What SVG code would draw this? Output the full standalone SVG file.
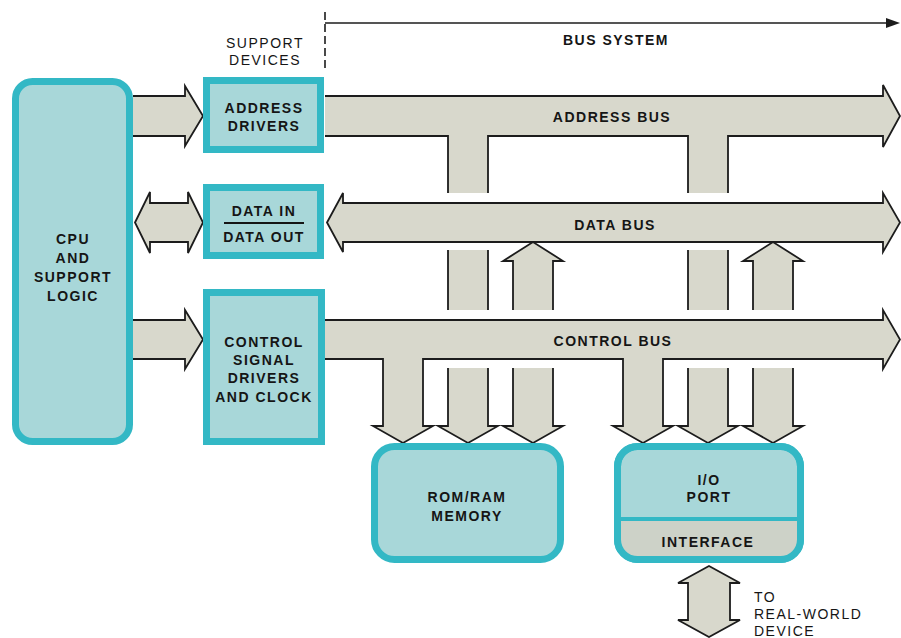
<svg xmlns="http://www.w3.org/2000/svg" width="901" height="638" viewBox="0 0 901 638">
<style>
  .bus { fill: #d8d8cc; stroke: none; }
  .edge { fill: none; stroke: #1c1c1c; stroke-width: 1.8; stroke-linejoin: miter; }
  .busf { fill: #d8d8cc; stroke: #1c1c1c; stroke-width: 1.8; stroke-linejoin: miter; }
  .box { fill: #a8d7d9; stroke: #33b8c5; stroke-width: 7; }
  .lbl { font-family: "Liberation Sans", Arial, sans-serif; font-size: 14px; font-weight: bold; letter-spacing: 1.5px; fill: #151515; text-anchor: middle; }
  .note { font-family: "Liberation Sans", Arial, sans-serif; font-size: 14px; letter-spacing: 1.5px; fill: #151515; text-anchor: middle; }
  .start { text-anchor: start; }
</style>
<rect width="901" height="638" fill="#ffffff"/>

<g id="connectors">
  <g id="bus-system-span">
    <line x1="325" y1="23" x2="890" y2="23" stroke="#1c1c1c" stroke-width="1.6"/>
    <polygon points="886,18 900,23 886,28" fill="#1c1c1c"/>
    <line x1="325" y1="12" x2="325" y2="72" stroke="#1c1c1c" stroke-width="1.6" stroke-dasharray="8 4"/>
  </g>

  <g id="cpu-address">
    <path class="bus" d="M133,96 L185,96 L185,86 L203,116 L185,146 L185,136 L133,136 Z"/>
    <path class="edge" d="M133,96 L185,96 L185,86 L203,116 L185,146 L185,136 L133,136"/>
  </g>
  <g id="cpu-data">
    <path class="busf" d="M135,222.5 L150,192 L150,203 L188,203 L188,192 L203,222.5 L188,253 L188,242 L150,242 L150,253 Z"/>
  </g>
  <g id="cpu-control">
    <path class="bus" d="M133,320 L185,320 L185,310 L203,339.5 L185,369 L185,359 L133,359 Z"/>
    <path class="edge" d="M133,320 L185,320 L185,310 L203,339.5 L185,369 L185,359 L133,359"/>
  </g>

  <g id="address-bus">
    <path class="bus" d="M325,96 L883,96 L883,85 L900,116 L883,147 L883,136 L728,136 L728,193 L688,193 L688,136 L488,136 L488,193 L448,193 L448,136 L325,136 Z"/>
    <path class="edge" d="M325,96 L883,96 L883,85 L900,116 L883,147 L883,136 L728,136 L728,193"/>
    <path class="edge" d="M688,193 L688,136 L488,136 L488,193"/>
    <path class="edge" d="M448,193 L448,136 L325,136"/>
  </g>

  <g id="data-bus">
    <path class="busf" d="M327,222.5 L343,193 L343,203 L883,203 L883,193 L900,222.5 L883,252 L883,242 L343,242 L343,252 Z"/>
  </g>

  <g id="address-mid">
    <rect class="bus" x="448" y="250" width="40" height="60"/>
    <path class="edge" d="M448,250 L448,310 M488,250 L488,310"/>
    <rect class="bus" x="688" y="250" width="40" height="60"/>
    <path class="edge" d="M688,250 L688,310 M728,250 L728,310"/>
  </g>

  <g id="data-up">
    <path class="bus" d="M533,242 L563,261 L553,261 L553,310 L513,310 L513,261 L503,261 Z"/>
    <path class="edge" d="M553,310 L553,261 L563,261 L533,242 L503,261 L513,261 L513,310"/>
    <path class="bus" d="M773,242 L803,261 L793,261 L793,310 L753,310 L753,261 L743,261 Z"/>
    <path class="edge" d="M793,310 L793,261 L803,261 L773,242 L743,261 L753,261 L753,310"/>
  </g>

  <g id="control-bus">
    <path class="bus" d="M325,320 L883,320 L883,310 L900,339.5 L883,369 L883,359 L663,359 L663,426 L673,426 L643,443 L613,426 L623,426 L623,359 L423,359 L423,426 L433,426 L403,443 L373,426 L383,426 L383,359 L325,359 Z"/>
    <path class="edge" d="M325,320 L883,320 L883,310 L900,339.5 L883,369 L883,359 L663,359 L663,426 L673,426 L643,443 L613,426 L623,426 L623,359 L423,359 L423,426 L433,426 L403,443 L373,426 L383,426 L383,359 L325,359"/>
  </g>

  <g id="lower-drops">
    <path class="bus" d="M448,368 L488,368 L488,426 L498,426 L468,443 L438,426 L448,426 Z"/>
    <path class="edge" d="M448,368 L448,426 L438,426 L468,443 L498,426 L488,426 L488,368"/>
    <path class="bus" d="M513,368 L553,368 L553,426 L563,426 L533,443 L503,426 L513,426 Z"/>
    <path class="edge" d="M513,368 L513,426 L503,426 L533,443 L563,426 L553,426 L553,368"/>
    <path class="bus" d="M688,368 L728,368 L728,426 L738,426 L708,443 L678,426 L688,426 Z"/>
    <path class="edge" d="M688,368 L688,426 L678,426 L708,443 L738,426 L728,426 L728,368"/>
    <path class="bus" d="M753,368 L793,368 L793,426 L803,426 L773,443 L743,426 L753,426 Z"/>
    <path class="edge" d="M753,368 L753,426 L743,426 L773,443 L803,426 L793,426 L793,368"/>
  </g>

  <g id="device-link">
    <path class="busf" d="M709,566 L740,583 L730,583 L730,620 L740,620 L709,637 L678,620 L688,620 L688,583 L678,583 Z"/>
  </g>
</g>

<g id="cpu">
  <rect class="box" x="15.5" y="81.5" width="114" height="360" rx="17"/>
  <text class="lbl" x="73" y="244">CPU</text>
  <text class="lbl" x="73" y="263">AND</text>
  <text class="lbl" x="73" y="282">SUPPORT</text>
  <text class="lbl" x="73" y="301">LOGIC</text>
</g>

<g id="address-drivers">
  <rect class="box" x="206.5" y="80.5" width="114" height="69"/>
  <text class="lbl" x="264" y="113">ADDRESS</text>
  <text class="lbl" x="264" y="131">DRIVERS</text>
</g>

<g id="data-in-out">
  <rect class="box" x="206.5" y="187.5" width="114" height="68"/>
  <text class="lbl" x="264" y="216">DATA IN</text>
  <line x1="224" y1="223" x2="304" y2="223" stroke="#151515" stroke-width="2"/>
  <text class="lbl" x="264" y="242">DATA OUT</text>
</g>

<g id="control-drivers">
  <rect class="box" x="206.5" y="292.5" width="115" height="149"/>
  <text class="lbl" x="264" y="347">CONTROL</text>
  <text class="lbl" x="264" y="365">SIGNAL</text>
  <text class="lbl" x="264" y="383">DRIVERS</text>
  <text class="lbl" x="264" y="402">AND CLOCK</text>
</g>

<g id="memory">
  <rect class="box" x="374.5" y="446.5" width="186" height="113" rx="20"/>
  <text class="lbl" x="467" y="502">ROM/RAM</text>
  <text class="lbl" x="467" y="521">MEMORY</text>
</g>

<g id="io-port">
  <rect class="box" x="617.5" y="446.5" width="183" height="113" rx="20"/>
  <path d="M621,519 L797,519 L797,541 Q797,556 782,556 L636,556 Q621,556 621,541 Z" fill="#cdd2c8"/>
  <line x1="619" y1="519" x2="799" y2="519" stroke="#33b8c5" stroke-width="4"/>
  <rect x="617.5" y="446.5" width="183" height="113" rx="20" fill="none" stroke="#33b8c5" stroke-width="7"/>
  <text class="lbl" x="709" y="485">I/O</text>
  <text class="lbl" x="709" y="502">PORT</text>
  <text class="lbl" x="708" y="547">INTERFACE</text>
</g>

<g id="labels">
  <text class="lbl" x="616" y="45">BUS SYSTEM</text>
  <text class="note" x="265" y="48">SUPPORT</text>
  <text class="note" x="265" y="65">DEVICES</text>
  <text class="lbl" x="612" y="122">ADDRESS BUS</text>
  <text class="lbl" x="615" y="230">DATA BUS</text>
  <text class="lbl" x="613" y="346">CONTROL BUS</text>
  <text class="note start" x="754" y="602">TO</text>
  <text class="note start" x="754" y="619">REAL-WORLD</text>
  <text class="note start" x="754" y="636">DEVICE</text>
</g>
</svg>
